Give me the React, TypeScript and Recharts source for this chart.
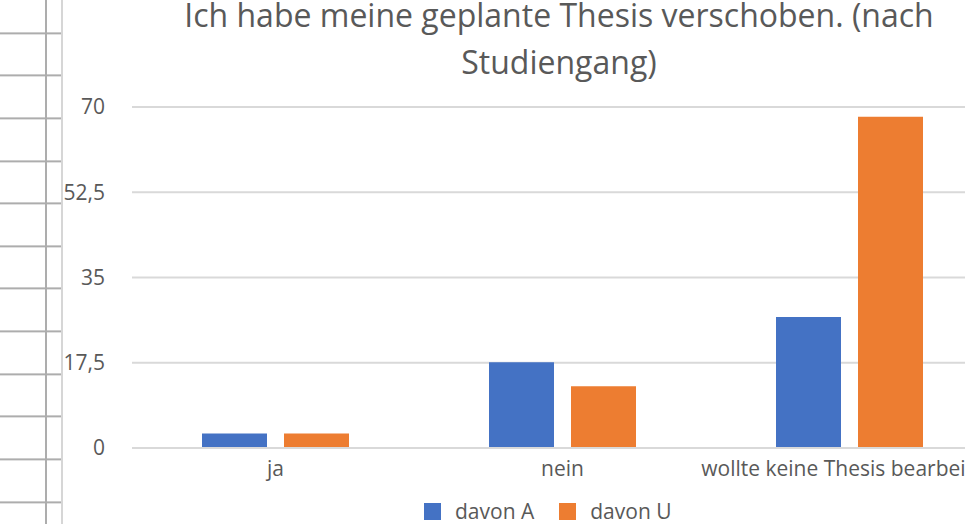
import React from "react";
import { BarChart, Bar, XAxis, YAxis, CartesianGrid } from "recharts";

const categories = ["ja", "nein", "wollte keine Thesis bearbeiten"];
const davonA = [3, 17.6, 26.9];
const davonU = [3, 12.7, 68];
const yTicks = [0, 17.5, 35, 52.5, 70];
const titleLines = ["Ich habe meine geplante Thesis verschoben. (nach", "Studiengang)"];
const seriesNames = ["davon A", "davon U"];
const seriesColors = ["#4472C4", "#ED7D31"];

const data = categories.map((c, i) => ({ name: c, a: davonA[i], u: davonU[i] }));

const FONT = "'Open Sans', sans-serif";
const TEXT = "#595959";

export default function App() {
  return (
    <div
      style={{
        position: "absolute",
        left: 0,
        top: 0,
        width: 965,
        height: 524,
        overflow: "hidden",
        background: "#fff",
        fontFamily: FONT,
      }}
    >
      {/* spreadsheet cells peeking out on the left */}
      <div
        style={{
          position: "absolute",
          left: 0,
          top: 0,
          width: 63,
          height: 524,
          backgroundImage:
            "repeating-linear-gradient(to bottom, transparent 0px, transparent 40.64px, #adadad 40.64px, #adadad 42.64px)",
          backgroundPosition: "0 -8.64px",
        }}
      />
      <div style={{ position: "absolute", left: 45, top: 0, width: 2, height: 524, background: "#adadad" }} />
      <div style={{ position: "absolute", left: 61, top: 0, width: 2, height: 524, background: "#d6d6d6" }} />

      {titleLines.map((t, i) => (
        <div
          key={t}
          style={{
            position: "absolute",
            left: 153,
            top: i * 47,
            width: 812,
            textAlign: "center",
            fontSize: 32,
            lineHeight: "30px",
            color: TEXT,
            whiteSpace: "nowrap",
          }}
        >
          {t}
        </div>
      ))}

      <div style={{ position: "absolute", left: 0, top: 0 }}>
        <BarChart
          width={1010}
          height={524}
          data={data}
          margin={{ top: 107, right: 17, bottom: 0, left: 62 }}
          barSize={65}
          barGap={17}
        >
          <CartesianGrid vertical={false} stroke="#d9d9d9" strokeWidth={2} />
          <XAxis
            dataKey="name"
            interval={0}
            tickLine={false}
            tickSize={0}
            tickMargin={13}
            axisLine={{ stroke: "#d9d9d9", strokeWidth: 2 }}
            tick={{ fontSize: 21, fill: TEXT, fontFamily: FONT }}
            height={76}
          />
          <YAxis
            domain={[0, 70]}
            ticks={yTicks}
            width={70}
            axisLine={false}
            tickLine={false}
            tickSize={0}
            tickMargin={27}
            tickFormatter={(v: number) => String(v).replace(".", ",")}
            tick={{ fontSize: 21, fill: TEXT, fontFamily: FONT }}
          />
          <Bar dataKey="a" name={seriesNames[0]} fill={seriesColors[0]} isAnimationActive={false} />
          <Bar dataKey="u" name={seriesNames[1]} fill={seriesColors[1]} isAnimationActive={false} />
        </BarChart>
      </div>

      <div
        style={{
          position: "absolute",
          left: 424,
          top: 500,
          display: "flex",
          alignItems: "center",
          fontSize: 21,
          color: TEXT,
          lineHeight: "22px",
        }}
      >
        {seriesNames.map((n, i) => (
          <div key={n} style={{ display: "flex", alignItems: "center", marginRight: 25 }}>
            <span
              style={{ width: 17, height: 17, background: seriesColors[i], marginRight: 14, display: "inline-block" }}
            />
            <span>{n}</span>
          </div>
        ))}
      </div>
    </div>
  );
}
